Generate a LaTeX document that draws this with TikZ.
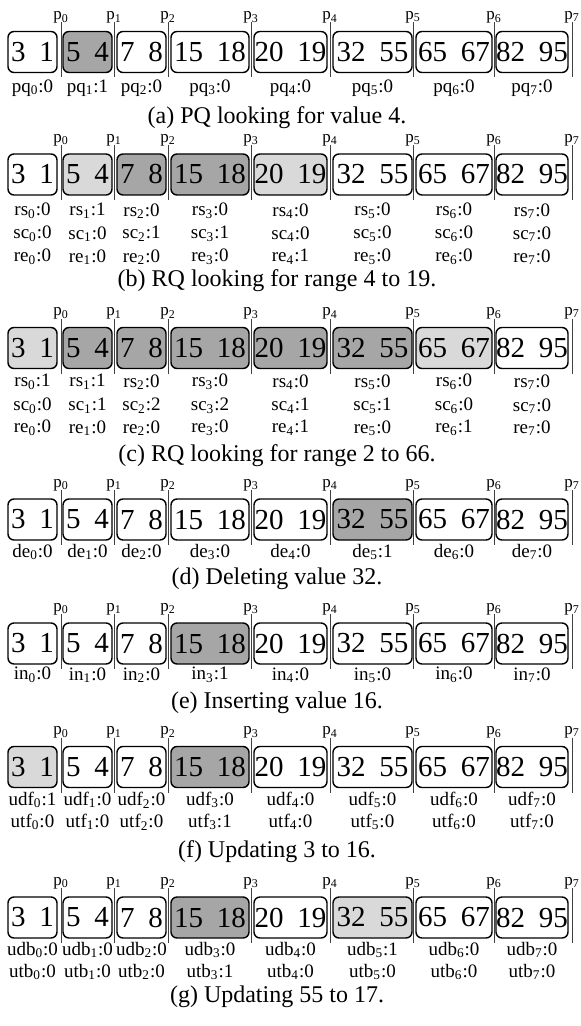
\documentclass[tikz,border=0pt]{standalone}
\usepackage{fontspec}
\setmainfont{Liberation Serif}
\usepackage{tikz}

\tikzset{
  cell/.style={draw, rounded corners=3pt, line width=0.7pt, minimum height=20.5pt, inner sep=0pt, font=\fontsize{14.5}{16}\selectfont},
  sep/.style={line width=0.5pt, black!75},
  plabel/.style={inner sep=0pt, font=\fontsize{8.5}{10}\selectfont},
  cnt/.style={inner sep=0pt, font=\fontsize{9.5}{11}\selectfont},
  caption/.style={inner sep=0pt, font=\fontsize{12}{14}\selectfont}
}

% #1 row name, #2 centre y, #3 shade of each cell
\newcommand{\cellrow}[3]{%
  \foreach \a/\b [count=\i from 0] in {3/1,5/4,7/8,15/18,20/19,32/55,65/67,82/95} {
    \pgfmathsetmacro{\x}{{32.5,87.5,141.5,210,290.5,372.5,454,532}[\i]}
    \pgfmathsetmacro{\w}{{24.5,24.5,24.5,39,36.5,39.5,38,35}[\i]}
    \pgfmathsetmacro{\sx}{{61,114,168,251,330,413,494,572}[\i]}
    \pgfmathtruncatemacro{\s}{{#3}[\i]}
    \node[cell, minimum width=\w pt, fill=black!\s] (#1c\i) at (\x,#2) {\a\hspace{7pt}\b};
    \node[plabel] (#1p\i) at (\sx,#2-34.5) {p\textsubscript{\i}};
    \draw[sep] (\sx,#2-29.5) -- (\sx,#2+25.5);
  }
}
% #1 node name, #2 y, #3 printed prefix, #4 values
\newcommand{\countrow}[4]{%
  \foreach \v [count=\i from 0] in {#4} {
    \pgfmathsetmacro{\x}{{32.5,87.5,141.5,210,290.5,372.5,454,532}[\i]}
    \node[cnt] (#1\i) at (\x,#2) {#3\textsubscript{\i}:\v};
  }
}

\begin{document}
\begin{tikzpicture}[x=0.5pt, y=-0.5pt]
\useasboundingbox (0,0) rectangle (581,1026);

% (a) point query
\cellrow{a}{52}{0,35,0,0,0,0,0,0}
\countrow{apq}{88}{pq}{0,1,0,0,0,0,0,0}
\node[caption] (capa) at (277,118) {(a) PQ looking for value 4.};

% (b) range query
\cellrow{b}{174.5}{0,15,35,35,15,0,0,0}
\countrow{brs}{211}{rs}{0,1,0,0,0,0,0,0}
\countrow{bsc}{234}{sc}{0,0,1,1,0,0,0,0}
\countrow{bre}{257}{re}{0,0,0,0,1,0,0,0}
\node[caption] (capb) at (277,281) {(b) RQ looking for range 4 to 19.};

% (c) range query
\cellrow{c}{348}{15,35,35,35,35,35,15,0}
\countrow{crs}{382}{rs}{1,1,0,0,0,0,0,0}
\countrow{csc}{406}{sc}{0,1,2,2,1,1,0,0}
\countrow{cre}{428}{re}{0,0,0,0,1,0,1,0}
\node[caption] (capc) at (277,456) {(c) RQ looking for range 2 to 66.};

% (d) delete
\cellrow{d}{519.5}{0,0,0,0,0,35,0,0}
\countrow{dde}{552}{de}{0,0,0,0,0,1,0,0}
\node[caption] (capd) at (277,579) {(d) Deleting value 32.};

% (e) insert
\cellrow{e}{643.5}{0,0,0,35,0,0,0,0}
\countrow{ein}{675}{in}{0,0,0,1,0,0,0,0}
\node[caption] (cape) at (277,703) {(e) Inserting value 16.};

% (f) update
\cellrow{f}{767}{15,0,0,35,0,0,0,0}
\countrow{fudf}{800}{udf}{1,0,0,0,0,0,0,0}
\countrow{futf}{822}{utf}{0,0,0,1,0,0,0,0}
\node[caption] (capf) at (277,852) {(f) Updating 3 to 16.};

% (g) update
\cellrow{g}{917.5}{0,0,0,35,0,15,0,0}
\countrow{gudb}{950}{udb}{0,0,0,0,0,1,0,0}
\countrow{gutb}{972}{utb}{0,0,0,1,0,0,0,0}
\node[caption] (capg) at (277,997) {(g) Updating 55 to 17.};
\end{tikzpicture}
\end{document}
